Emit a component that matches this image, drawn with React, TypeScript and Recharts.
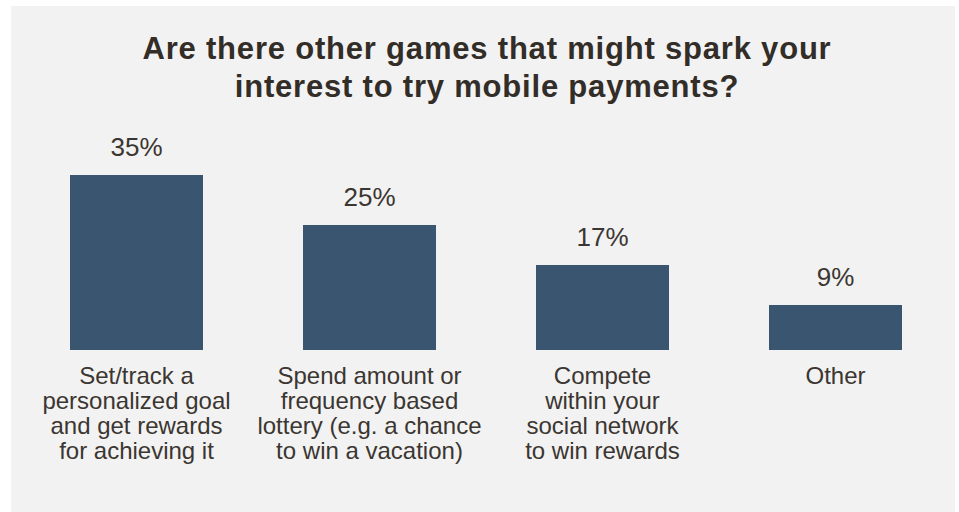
import React from "react";
import { Bar, BarChart, LabelList, XAxis, YAxis } from "recharts";

const CATEGORIES = [
  "Set/track a|personalized goal|and get rewards|for achieving it",
  "Spend amount or|frequency based|lottery (e.g. a chance|to win a vacation)",
  "Compete|within your|social network|to win rewards",
  "Other",
];
const VALUES = [35, 25, 17, 9];
const TITLE_LINES = [
  "Are there other games that might spark your",
  "interest to try mobile payments?",
];

const BAR_COLOR = "#3a5570";
const TEXT_COLOR = "#3b3631";
const FONT = "'Liberation Sans', Arial, Helvetica, sans-serif";

const data = CATEGORIES.map((name, i) => ({ name, value: VALUES[i] }));

function CategoryTick(props: any) {
  const { x, y, payload } = props;
  const lines = String(payload.value).split("|");
  return (
    <text
      x={x}
      y={y + 34}
      textAnchor="middle"
      fill={TEXT_COLOR}
      fontSize={24}
      fontFamily={FONT}
    >
      {lines.map((line, i) => (
        <tspan key={i} x={x} dy={i === 0 ? 0 : 25}>
          {line}
        </tspan>
      ))}
    </text>
  );
}

function ValueLabel(props: any) {
  const { x, y, width, value } = props;
  return (
    <text
      x={x + width / 2}
      y={y - 19}
      textAnchor="middle"
      fill={TEXT_COLOR}
      fontSize={26}
      fontFamily={FONT}
    >
      {value}%
    </text>
  );
}

export default function App() {
  return (
    <div
      style={{
        position: "absolute",
        left: 0,
        top: 0,
        width: 959,
        height: 512,
        background: "#ffffff",
        overflow: "hidden",
      }}
    >
      <div
        style={{
          position: "absolute",
          left: 11,
          top: 6,
          width: 944,
          height: 506,
          background: "#f2f2f2",
        }}
      />
      <div
        style={{
          position: "absolute",
          left: 0,
          top: 30,
          width: 974,
          textAlign: "center",
          fontFamily: FONT,
          fontWeight: 700,
          fontSize: 31,
          letterSpacing: "0.8px",
          lineHeight: "38px",
          color: "#332d28",
        }}
      >
        {TITLE_LINES.map((line, i) => (
          <div key={i}>{line}</div>
        ))}
      </div>
      <div style={{ position: "absolute", left: 0, top: 0 }}>
        <BarChart
          width={959}
          height={512}
          data={data}
          margin={{ top: 150, right: 7, bottom: 32, left: 20 }}
          barSize={133}
        >
          <XAxis
            dataKey="name"
            axisLine={false}
            tickLine={false}
            tickSize={0}
            tickMargin={0}
            height={130}
            interval={0}
            tick={<CategoryTick />}
          />
          <YAxis hide domain={[0, 40]} />
          <Bar dataKey="value" fill={BAR_COLOR} isAnimationActive={false}>
            <LabelList dataKey="value" content={<ValueLabel />} />
          </Bar>
        </BarChart>
      </div>
    </div>
  );
}
